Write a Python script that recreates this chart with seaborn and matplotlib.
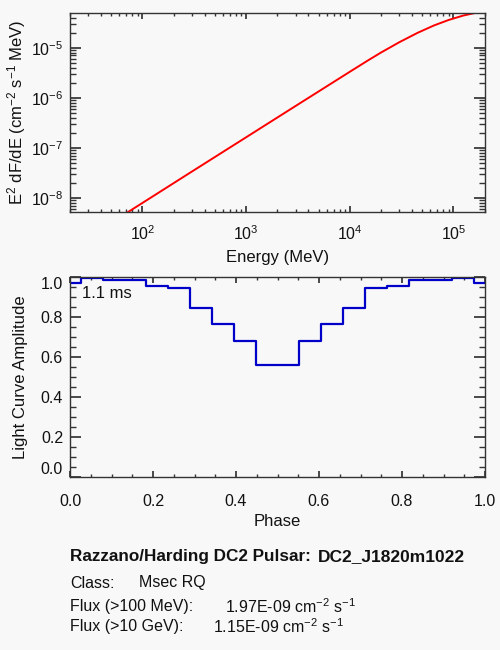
import numpy as np
import matplotlib
matplotlib.use("Agg")
import matplotlib.pyplot as plt
import seaborn as sns
from matplotlib.ticker import MultipleLocator, LogLocator, NullFormatter, FixedLocator

# spectrum (E^2 dF/dE)
energy_mev = [70, 100, 300, 1000, 3000, 10000, 15000, 20000, 30000,
              45000, 65000, 90000, 125000, 200000]
e2_flux = [4.95e-9, 7.9e-9, 3.35e-8, 1.62e-7, 6.84e-7, 3.3e-6, 5.58e-6,
           8.0e-6, 1.285e-5, 1.98e-5, 2.79e-5, 3.59e-5, 4.41e-5, 5.45e-5]

# light curve, 20 phase points (steps centred on each point)
phase = [0.0, 0.0526, 0.1053, 0.1579, 0.2105, 0.2632, 0.3158, 0.3684,
         0.4211, 0.4737, 0.5263, 0.5789, 0.6316, 0.6842, 0.7368, 0.7895,
         0.8421, 0.8947, 0.9474, 1.0]
amplitude = [0.968, 0.993, 0.985, 0.985, 0.957, 0.943, 0.847, 0.763,
             0.68, 0.56, 0.56, 0.68, 0.763, 0.847, 0.943, 0.957,
             0.985, 0.985, 0.993, 0.968]
amp_ticks = [0.0, 0.2, 0.4, 0.6, 0.8, 1.0]
phase_ticks = [0.0, 0.2, 0.4, 0.6, 0.8, 1.0]

pulsar_name = "DC2_J1820m1022"
pulsar_class = "Msec RQ"
flux_100mev = "1.97E-09"
flux_10gev = "1.15E-09"
period_label = "1.1 ms"

bg = "#f8f8f8"
sns.set_theme(style="ticks")
plt.rcParams["font.family"] = ["Liberation Sans", "DejaVu Sans"]
plt.rcParams["mathtext.fontset"] = "custom"
plt.rcParams["mathtext.rm"] = "Liberation Sans"
plt.rcParams["mathtext.it"] = "Liberation Sans:italic"
plt.rcParams["mathtext.bf"] = "Liberation Sans:bold"
plt.rcParams["axes.edgecolor"] = "#333333"
plt.rcParams["axes.linewidth"] = 1.0

fig = plt.figure(figsize=(5, 6.5), dpi=100, facecolor=bg)
ax1 = fig.add_axes([0.14, 0.6738, 0.83, 0.3062], facecolor=bg)
ax2 = fig.add_axes([0.14, 0.2662, 0.83, 0.3077], facecolor=bg)

# --- spectrum ---
ax1.set_xscale("log")
ax1.set_yscale("log")
sns.lineplot(x=energy_mev, y=e2_flux, ax=ax1, color="#ff0000", lw=1.4)
ax1.set_xlim(20, 2.02e5)
ax1.set_ylim(5.2e-9, 4.95e-5)
ax1.xaxis.set_major_locator(LogLocator(base=10, numticks=10))
ax1.xaxis.set_minor_locator(LogLocator(base=10, subs=np.arange(2, 10), numticks=20))
ax1.yaxis.set_major_locator(LogLocator(base=10, numticks=10))
ax1.yaxis.set_minor_locator(LogLocator(base=10, subs=np.arange(2, 10), numticks=20))
ax1.xaxis.set_minor_formatter(NullFormatter())
ax1.yaxis.set_minor_formatter(NullFormatter())
ax1.set_xlabel("Energy (MeV)", fontsize=12, color="#111111", labelpad=5)
ax1.set_ylabel(r"E$^2$ dF/dE (cm$^{-2}$ s$^{-1}$ MeV)", fontsize=12, color="#111111")
ax1.yaxis.set_label_coords(-0.101, 0.5)

# --- light curve ---
sns.lineplot(x=phase, y=amplitude, ax=ax2, color="#0000c8", lw=1.6,
             drawstyle="steps-mid")
ax2.set_xlim(0, 1)
ax2.set_ylim(0, 1.0)
ax2.xaxis.set_major_locator(FixedLocator(phase_ticks))
ax2.xaxis.set_minor_locator(MultipleLocator(0.05))
ax2.yaxis.set_major_locator(FixedLocator(amp_ticks))
ax2.yaxis.set_minor_locator(MultipleLocator(0.05))
ax2.xaxis.set_major_formatter(lambda v, p: f"{v:.1f}")
ax2.yaxis.set_major_formatter(lambda v, p: f"{v:.1f}")
ax2.set_xlabel("Phase", fontsize=12, color="#111111", labelpad=4)
ax2.set_ylabel("Light Curve Amplitude", fontsize=12, color="#111111")
ax2.yaxis.set_label_coords(-0.102, 0.5)
ax2.text(0.028, 0.918, period_label, transform=ax2.transAxes, fontsize=12,
         va="center", ha="left", color="#111111")

for ax in (ax1, ax2):
    ax.tick_params(which="both", direction="in", top=True, right=True,
                   labelsize=11.5, colors="#333333", labelcolor="#111111")
    ax.tick_params(axis="y", which="major", length=8, pad=5)
    ax.tick_params(axis="y", which="minor", length=4)
    ax.tick_params(axis="x", which="major", length=4)
    ax.tick_params(axis="x", which="minor", length=2.5)
    for s in ax.spines.values():
        s.set_visible(True)
ax1.tick_params(axis="x", which="major", pad=9)
ax2.tick_params(axis="x", which="major", pad=12)

for lab in ax2.get_yticklabels():
    if lab.get_text() == "0.0":
        lab.set_va("bottom")
    elif lab.get_text() == "1.0":
        lab.set_va("top")

# --- info text ---
tc = "#111111"
fs = 11.5
fig.text(0.141, 1 - 557 / 650, "Razzano/Harding DC2 Pulsar:", fontsize=12.3,
         fontweight="bold", va="center", color=tc)
fig.text(318 / 500, 1 - 557 / 650, pulsar_name, fontsize=12.5,
         fontweight="bold", va="center", color=tc)
fig.text(0.141, 1 - 583 / 650, "Class:", fontsize=fs, va="center", color=tc)
fig.text(139.3 / 500, 1 - 583 / 650, pulsar_class, fontsize=fs, va="center", color=tc)
fig.text(0.141, 1 - 607 / 650, "Flux (>100 MeV):", fontsize=fs, va="center", color=tc)
fig.text(225 / 500, 1 - 607 / 650, flux_100mev + r" cm$^{-2}$ s$^{-1}$",
         fontsize=fs, va="center", color=tc)
fig.text(0.141, 1 - 627 / 650, "Flux (>10 GeV):", fontsize=fs, va="center", color=tc)
fig.text(213 / 500, 1 - 627 / 650, flux_10gev + r" cm$^{-2}$ s$^{-1}$",
         fontsize=fs, va="center", color=tc)

fig.savefig("out.png", dpi=100, facecolor=bg)
